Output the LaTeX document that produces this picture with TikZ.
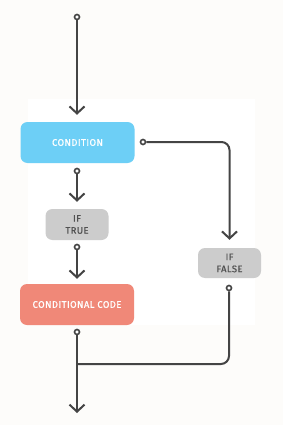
\documentclass[tikz,border=0pt]{standalone}
\usepackage{fontspec}
\setmainfont{Fira Sans}[LetterSpace=4, FakeBold=0.6]
\usetikzlibrary{arrows.meta}
\definecolor{bgc}{HTML}{FDFCFA}
\definecolor{linec}{HTML}{444444}
\definecolor{condc}{HTML}{6DCFF6}
\definecolor{codec}{HTML}{F08878}
\definecolor{grayc}{HTML}{CCCCCC}
\definecolor{graytext}{HTML}{505050}
\tikzset{
  box/.style={rounded corners=7pt, draw=none, inner sep=0pt, align=center,
    font=\fontsize{9.5}{12}\selectfont},
  bigbox/.style={box, minimum width=114pt, minimum height=41pt, text=white},
  smallbox/.style={box, fill=grayc, minimum width=63pt, minimum height=31pt, text=graytext},
  circ/.style={circle, draw=linec, fill=white, line width=1.6pt, minimum size=5pt, inner sep=0pt},
  conn/.style={draw=linec, line width=2pt},
  arr/.style={conn, -{Straight Barb[length=7pt,width=15pt,line width=2pt]}},
}
\begin{document}
\begin{tikzpicture}[x=1pt,y=-1pt]
\useasboundingbox (0,0) rectangle (283,425);
\fill[bgc] (0,0) rectangle (283,425);
\fill[white] (28,99) rectangle (255,325);

\node[bigbox, fill=condc] (cond) at (77.5,142.5) {CONDITION};
\node[smallbox] (iftrue) at (77,224.5) {IF\\TRUE};
\node[bigbox, fill=codec] (code) at (77,304.5) {CONDITIONAL CODE};
\node[smallbox, minimum height=30pt] (iffalse) at (229.5,263) {IF\\FALSE};

\node[circ] (c0) at (77,17) {};
\node[circ] (c1) at (143,142) {};
\node[circ] (c2) at (77,171) {};
\node[circ] (c3) at (77,247) {};
\node[circ] (c4) at (229,288) {};
\node[circ] (c5) at (77,332) {};
\coordinate (merge) at (77,364);
\coordinate (end) at (77,413);

\draw[arr, shorten >=7pt] (c0) -- (c0 |- cond.north);
\draw[arr, shorten >=8pt, rounded corners=8pt] (c1) -| (iffalse.north);
\draw[arr, shorten >=7pt] (c2) -- (c2 |- iftrue.north);
\draw[arr, shorten >=5pt] (c3) -- (code.north);
\draw[conn, rounded corners=8pt] (c4) |- (merge);
\draw[arr] (c5) -- (end);
\end{tikzpicture}
\end{document}
